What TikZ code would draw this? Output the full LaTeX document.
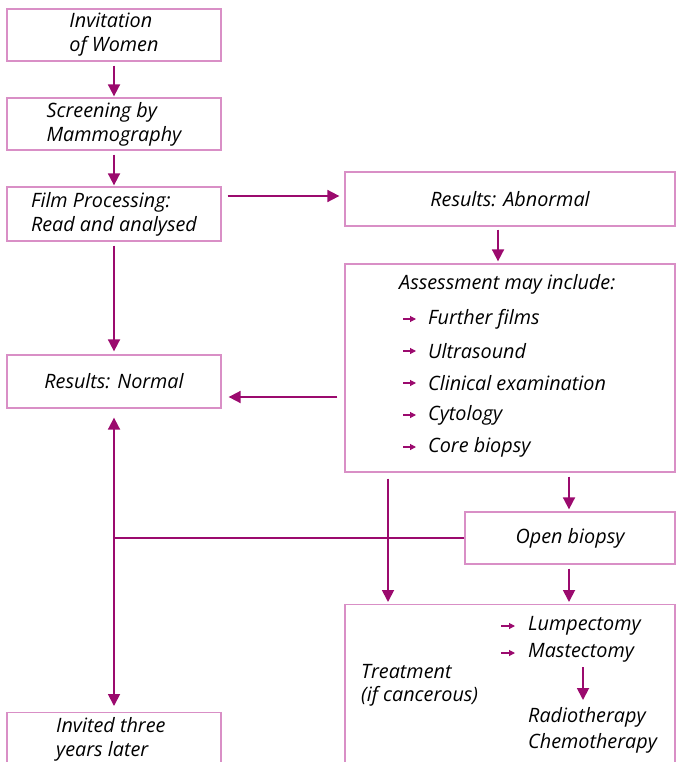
\documentclass[tikz,border=0pt]{standalone}
\usepackage{fontspec}
\setmainfont{Open Sans}
\usetikzlibrary{arrows.meta}
\definecolor{arr}{HTML}{9B0A6E}
\definecolor{bord}{HTML}{D98FC6}
\begin{document}
\begin{tikzpicture}[x=1pt,y=-1pt,
 box/.style={draw=bord,line width=1.3pt,rectangle,inner sep=0pt,font=\itshape\fontsize{19.8}{24}\selectfont,align=left},
 txt/.style={inner sep=0pt,font=\itshape\fontsize{19.8}{24}\selectfont,anchor=west},
 flow/.style={draw=arr,line width=1.8pt,-{Triangle[width=12pt,length=12pt]}},
 plain/.style={draw=arr,line width=1.8pt},
 bul/.style={draw=arr,line width=1.1pt,-{Triangle[width=6pt,length=6pt]}}]
\useasboundingbox (0,0) rectangle (676,762);
\clip (0,0) rectangle (676,762);
% left column
\node[box,minimum width=214pt,minimum height=52pt] (inv) at (114,35) {Invitation\\of Women};
\node[box,minimum width=214pt,minimum height=52pt] (scr) at (114,124) {Screening by\\Mammography};
\node[box,minimum width=214pt,minimum height=54pt] (film) at (114,214) {Film Processing:\\Read and analysed};
\node[box,minimum width=214pt,minimum height=53pt] (norm) at (114,381.5) {Results: Normal};
\node[box,minimum width=214pt,minimum height=100pt,anchor=north] (invd) at (114,712) {};
\node[txt] (invdt) at (56,740) {\begin{tabular}{@{}l@{}}Invited three\\years later\end{tabular}};
% right column
\node[box,minimum width=330pt,minimum height=54pt] (abn) at (510,199) {Results: Abnormal};
\node[box,minimum width=330pt,minimum height=208pt] (ass) at (510,368) {};
\node[txt] (asst) at (399,284) {Assessment may include:};
\foreach \t/\y/\n in {Further films/319/b1,Ultrasound/351/b2,Clinical examination/383/b3,Cytology/415/b4,Core biopsy/447/b5}{
  \node[txt] (\n) at (428,\y) {\t};
  \coordinate (\n s) at (403,\y);
  \draw[bul] (\n s) -- ([xshift=-12pt]\n.west);
}
\node[box,minimum width=210pt,minimum height=52pt] (open) at (570,538) {Open biopsy};
\node[box,minimum width=330pt,minimum height=220pt,anchor=north] (treat) at (510,604) {};
\node[txt] (tr) at (361,685) {\begin{tabular}{@{}l@{}}Treatment\\[-1pt](if cancerous)\end{tabular}};
\node[txt] (lum) at (528,626) {Lumpectomy};
\node[txt] (mas) at (528,653) {Mastectomy};
\coordinate (lums) at (501,626);
\coordinate (mass) at (501,653);
\draw[bul] (lums) -- ([xshift=-13pt]lum.west);
\draw[bul] (mass) -- ([xshift=-13pt]mas.west);
\node[txt] (rad) at (528,717) {Radiotherapy};
\node[txt] (che) at (528,743) {Chemotherapy};
\coordinate (ms) at (583,667);
\draw[flow] (ms) -- (583,700);
% helper coordinates
\coordinate (y196) at (0,196);
\coordinate (y397) at (0,397);
\coordinate (x498) at (498,0);
\coordinate (x569) at (569,0);
\coordinate (x388) at (388,0);
% connectors
\draw[flow,shorten <=4pt,shorten >=1pt] (inv) -- (scr);
\draw[flow,shorten <=4pt,shorten >=1pt] (scr) -- (film);
\draw[flow,shorten <=6pt,shorten >=5pt] (film.east |- y196) -- (abn.west |- y196);
\draw[flow,shorten <=4pt,shorten >=3pt] (film) -- (norm);
\draw[flow,shorten <=3pt,shorten >=2pt] (abn.south -| x498) -- (ass.north -| x498);
\draw[flow,shorten <=7pt,shorten >=7pt] (ass.west |- y397) -- (norm.east |- y397);
\draw[flow,shorten <=4pt,shorten >=2pt] (ass.south -| x569) -- (open.north -| x569);
\draw[flow,shorten <=6pt,shorten >=2pt] (ass.south -| x388) -- (treat.north -| x388);
\draw[flow,shorten <=4pt,shorten >=2pt] (open.south -| x569) -- (treat.north -| x569);
\coordinate (j) at (norm.south |- open.west);
\draw[plain] (open.west) -- (j);
\draw[flow,shorten >=9pt] (j) -- (norm.south);
\draw[flow,shorten >=6pt] (j) -- (invd.north);
\end{tikzpicture}
\end{document}
